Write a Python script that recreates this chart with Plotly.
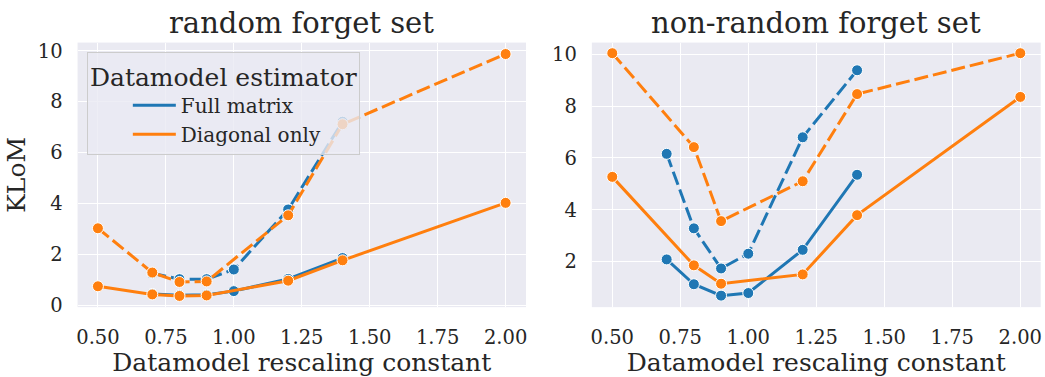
import plotly.graph_objects as go
from plotly.subplots import make_subplots

# Rescaling constants evaluated for each estimator
x_full = [0.7, 0.8, 0.9, 1.0, 1.2, 1.4]
x_diag_random = [0.5, 0.7, 0.8, 0.9, 1.2, 1.4, 2.0]
x_diag_nonrandom = [0.5, 0.8, 0.9, 1.2, 1.4, 2.0]

# KLoM on the random forget set (solid / dashed variants)
random_full_solid = [0.44, 0.39, 0.41, 0.55, 1.03, 1.85]
random_full_dashed = [1.25, 1.02, 1.02, 1.40, 3.76, 7.21]
random_diag_solid = [0.74, 0.42, 0.36, 0.38, 0.96, 1.76, 4.02]
random_diag_dashed = [3.02, 1.28, 0.91, 0.93, 3.53, 7.11, 9.87]

# KLoM on the non-random forget set (solid / dashed variants)
nonrandom_full_solid = [2.08, 1.12, 0.68, 0.78, 2.45, 5.35]
nonrandom_full_dashed = [6.16, 3.28, 1.73, 2.30, 6.80, 9.39]
nonrandom_diag_solid = [5.27, 1.85, 1.14, 1.50, 3.79, 8.36]
nonrandom_diag_dashed = [10.05, 6.42, 3.56, 5.10, 8.47, 10.05]

x_ticks = [0.5, 0.75, 1.0, 1.25, 1.5, 1.75, 2.0]
x_tick_text = ["0.50", "0.75", "1.00", "1.25", "1.50", "1.75", "2.00"]
y_ticks = [0, 2, 4, 6, 8, 10]

panel_titles = ["random forget set", "non-random forget set"]
estimators = ["Full matrix", "Diagonal only"]

BLUE = "#1f77b4"
ORANGE = "#ff7f0e"
FONT = "DejaVu Serif"
TEXT = "#262626"
DASH = "14px,5px"

W, H = 1045, 377


def add_line(fig, x, y, color, dash, col):
    fig.add_trace(
        go.Scatter(
            x=x, y=y, mode="lines+markers",
            line=dict(color=color, width=3, dash=dash),
            marker=dict(size=11, color=color, line=dict(color="white", width=1)),
            showlegend=False,
        ),
        row=1, col=col,
    )


fig = make_subplots(rows=1, cols=2)

# random forget set
add_line(fig, x_full, random_full_solid, BLUE, "solid", 1)
add_line(fig, x_full, random_full_dashed, BLUE, DASH, 1)
add_line(fig, x_diag_random, random_diag_solid, ORANGE, "solid", 1)
add_line(fig, x_diag_random, random_diag_dashed, ORANGE, DASH, 1)

# non-random forget set
add_line(fig, x_full, nonrandom_full_solid, BLUE, "solid", 2)
add_line(fig, x_full, nonrandom_full_dashed, BLUE, DASH, 2)
add_line(fig, x_diag_nonrandom, nonrandom_diag_solid, ORANGE, "solid", 2)
add_line(fig, x_diag_nonrandom, nonrandom_diag_dashed, ORANGE, DASH, 2)

# legend entries (hue only)
for name, color in zip(estimators, [BLUE, ORANGE]):
    fig.add_trace(
        go.Scatter(x=[None], y=[None], mode="lines", name=name,
                   line=dict(color=color, width=3)),
        row=1, col=1,
    )

# plot-area geometry in pixels
left_x = (76.7 / W, 526.0 / W)
right_x = (592.0 / W, 1041.7 / W)
y_dom = ((H - 315.0) / H, (H - 41.0) / H)

axis_common = dict(
    showgrid=True, gridcolor="white", gridwidth=1.3,
    zeroline=False, showline=False, ticks="",
    tickfont=dict(family=FONT, size=19.5, color=TEXT),
)

fig.update_xaxes(
    tickvals=x_ticks, ticktext=x_tick_text, range=[0.425, 2.075],
    ticklabelstandoff=16,
    title=dict(text="Datamodel rescaling constant",
               font=dict(family=FONT, size=25, color=TEXT), standoff=0),
    **axis_common,
)
fig.update_xaxes(domain=left_x, row=1, col=1)
fig.update_xaxes(domain=right_x, row=1, col=2)
fig.update_yaxes(tickvals=y_ticks, domain=y_dom, ticklabelstandoff=14,
                 **axis_common)
fig.update_yaxes(range=[-0.08, 10.32], row=1, col=1,
                 title=dict(text="KLoM", font=dict(family=FONT, size=25, color=TEXT),
                            standoff=4))
fig.update_yaxes(range=[0.235, 10.46], row=1, col=2)

for title, dom in zip(panel_titles, [left_x, right_x]):
    fig.add_annotation(
        text=title, x=(dom[0] + dom[1]) / 2, y=(H - 21.0) / H,
        xref="paper", yref="paper", xanchor="center", yanchor="middle",
        showarrow=False, font=dict(family=FONT, size=29, color=TEXT),
    )

fig.update_layout(
    width=W, height=H,
    margin=dict(l=0, r=0, t=0, b=0),
    paper_bgcolor="white",
    plot_bgcolor="#EAEAF2",
    font=dict(family=FONT, color=TEXT),
    legend=dict(
        x=86 / W, y=(H - 51.0) / H, xanchor="left", yanchor="top",
        bgcolor="rgba(234,234,242,0.8)", bordercolor="#cccccc", borderwidth=1,
        title=dict(text="Datamodel estimator", side="top center",
                   font=dict(family=FONT, size=25, color=TEXT)),
        font=dict(family=FONT, size=20, color=TEXT),
        itemwidth=43,
        indentation=40,
    ),
)

fig.write_html("out.html")
